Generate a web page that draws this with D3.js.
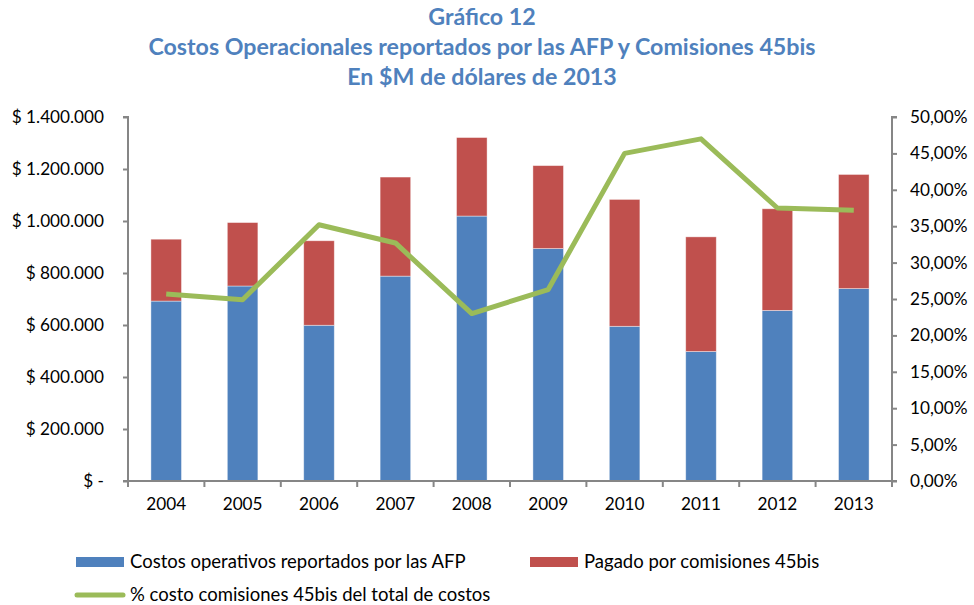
<!DOCTYPE html>
<html>
<head>
<meta charset="utf-8">
<script src="https://cdn.jsdelivr.net/npm/d3@7"></script>
<style>
  body { margin: 0; background: #fff; }
  svg { display: block; font-family: Lato, "Liberation Sans", sans-serif; }
</style>
</head>
<body>
<div id="chart"></div>
<script>
// datos del gráfico
var years = ['2004', '2005', '2006', '2007', '2008', '2009', '2010', '2011', '2012', '2013'];
var costosOperativos = [692000, 750000, 599000, 788000, 1019000, 894000, 595000, 498000, 656000, 740000];
var pagadoComisiones = [238000, 244000, 325000, 381000, 302000, 319000, 488000, 441000, 391000, 439000];
var pctComisiones = [25.7, 24.9, 35.2, 32.7, 23.0, 26.3, 45.0, 47.0, 37.5, 37.2];
var leftTicks = [0, 200000, 400000, 600000, 800000, 1000000, 1200000, 1400000];
var rightTicks = [0, 5, 10, 15, 20, 25, 30, 35, 40, 45, 50];
var titleLines = ['Gráfico 12', 'Costos Operacionales reportados por las AFP y Comisiones 45bis', 'En $M de dólares de 2013'];

var width = 974, height = 605;
var margin = { top: 117, right: 82, bottom: 124, left: 128 };
var innerW = width - margin.left - margin.right;
var innerH = height - margin.top - margin.bottom;

var svg = d3.select('#chart')
  .append('svg')
  .attr('width', width)
  .attr('height', height);

// título
svg.append('g')
  .selectAll('text')
  .data(titleLines)
  .enter()
  .append('text')
  .attr('x', 482)
  .attr('y', (d, i) => 25 + i * 30)
  .attr('text-anchor', 'middle')
  .attr('font-size', 23.2)
  .attr('font-weight', 'bold')
  .attr('fill', '#4f81bd')
  .text(d => d);

var g = svg.append('g')
  .attr('transform', `translate(${margin.left},${margin.top})`);

var x = d3.scaleBand()
  .domain(years)
  .range([0, innerW])
  .paddingInner(0.6)
  .paddingOuter(0.3);

var y = d3.scaleLinear()
  .domain([0, 1400000])
  .range([innerH, 0]);

var y2 = d3.scaleLinear()
  .domain([0, 50])
  .range([innerH, 0]);

var fmtMoney = d => d === 0 ? '$ -' : '$ ' + d3.format(',')(d).replace(/,/g, '.');
var fmtPct = d => d3.format('.2f')(d).replace('.', ',') + '%';

// barras apiladas
var stacked = years.map((yr, i) => ({
  year: yr,
  parts: [
    { y0: 0, y1: costosOperativos[i], color: '#4f81bd' },
    { y0: costosOperativos[i], y1: costosOperativos[i] + pagadoComisiones[i], color: '#c0504d' }
  ]
}));

g.selectAll('.year')
  .data(stacked)
  .enter()
  .append('g')
  .attr('class', 'year')
  .selectAll('rect')
  .data(d => d.parts.map(p => Object.assign({ year: d.year }, p)))
  .enter()
  .append('rect')
  .attr('x', d => x(d.year))
  .attr('width', x.bandwidth())
  .attr('y', d => y(d.y1))
  .attr('height', d => y(d.y0) - y(d.y1))
  .attr('fill', d => d.color)
  .attr('stroke', 'rgba(255,255,255,0.5)')
  .attr('stroke-width', 0.8);

// ejes
var axisColor = '#868686';

var leftAxis = g.append('g')
  .call(d3.axisLeft(y).tickValues(leftTicks).tickFormat(fmtMoney).tickSize(5).tickPadding(19));

var rightAxis = g.append('g')
  .attr('transform', `translate(${innerW},0)`)
  .call(d3.axisRight(y2).tickValues(rightTicks).tickFormat(fmtPct).tickSize(5).tickPadding(13));

// eje x: marcas en los límites de cada categoría
var bottomAxis = g.append('g')
  .attr('transform', `translate(0,${innerH})`)
  .call(d3.axisBottom(x).tickSize(0).tickPadding(17));

bottomAxis.selectAll('.boundary')
  .data(d3.range(years.length + 1))
  .enter()
  .append('line')
  .attr('class', 'boundary')
  .attr('x1', i => i * innerW / years.length)
  .attr('x2', i => i * innerW / years.length)
  .attr('y1', 0)
  .attr('y2', 6);

[leftAxis, rightAxis, bottomAxis].forEach(a => {
  a.attr('font-family', null).attr('font-size', 17.2);
  a.select('.domain').attr('stroke', axisColor).attr('stroke-width', 2);
  a.selectAll('line').attr('stroke', axisColor).attr('stroke-width', 2);
  a.selectAll('text').attr('fill', '#000');
});
bottomAxis.select('.domain').attr('d', `M0,0H${innerW}`);
leftAxis.select('.domain').attr('d', `M-5,0H0V${innerH}H-5`);
rightAxis.select('.domain').attr('d', `M5,0H0V${innerH}H5`);

// línea de porcentaje
var line = d3.line()
  .x((d, i) => x(years[i]) + x.bandwidth() / 2)
  .y(d => y2(d));

g.append('path')
  .datum(pctComisiones)
  .attr('fill', 'none')
  .attr('stroke', '#9bbb59')
  .attr('stroke-width', 5)
  .attr('stroke-linejoin', 'round')
  .attr('d', line);

// leyenda
var legend = svg.append('g').attr('font-size', 18.5);

var legendItems = [
  { label: 'Costos operativos reportados por las AFP', color: '#4f81bd', type: 'rect', x: 76, y: 562 },
  { label: 'Pagado por comisiones 45bis', color: '#c0504d', type: 'rect', x: 530, y: 562 },
  { label: '% costo comisiones 45bis del total de costos', color: '#9bbb59', type: 'line', x: 76, y: 595 }
];

var li = legend.selectAll('g')
  .data(legendItems)
  .enter()
  .append('g')
  .attr('transform', d => `translate(${d.x},${d.y})`);

li.filter(d => d.type === 'rect')
  .append('rect')
  .attr('x', 0)
  .attr('y', -5)
  .attr('width', 48)
  .attr('height', 10)
  .attr('fill', d => d.color);

li.filter(d => d.type === 'line')
  .append('line')
  .attr('x1', 1)
  .attr('x2', 47)
  .attr('y1', 0)
  .attr('y2', 0)
  .attr('stroke', d => d.color)
  .attr('stroke-width', 5)
  .attr('stroke-linecap', 'round');

li.append('text')
  .attr('x', 54)
  .attr('dy', '0.35em')
  .text(d => d.label);
</script>
</body>
</html>
